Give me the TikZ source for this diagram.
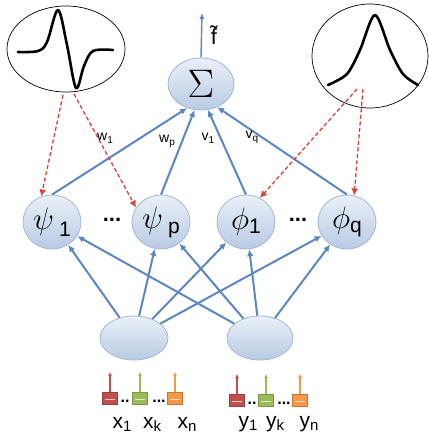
\documentclass[tikz,border=0pt]{standalone}
\usepackage{fontspec}
\setmainfont{Liberation Sans}
\usetikzlibrary{arrows.meta,shapes.geometric,calc}
\definecolor{lineblue}{HTML}{5A87C2}
\definecolor{nodetop}{HTML}{EAF0F8}
\definecolor{nodebot}{HTML}{B8CAE3}
\definecolor{nodeedge}{HTML}{A3B8D4}
\definecolor{dashred}{HTML}{D9413A}
\definecolor{boxred}{HTML}{C0504D}
\definecolor{boxgreen}{HTML}{9BBB59}
\definecolor{boxorange}{HTML}{F79646}
\tikzset{
  neuron/.style={ellipse, draw=nodeedge, line width=0.8pt, top color=nodetop, bottom color=nodebot, inner sep=0pt},
  bubble/.style={ellipse, draw=black, line width=0.7pt, inner sep=0pt},
  conn/.style={draw=lineblue, line width=2pt, -{Latex[length=7pt,width=6.5pt]}},
  redconn/.style={draw=dashred, line width=1.3pt, dash pattern=on 4pt off 2.5pt, -{Latex[length=7pt,width=7pt]}},
  curve/.style={line width=2.6pt, black, line cap=round, line join=round},
  inbox/.style={minimum width=15pt, minimum height=12pt, inner sep=0pt, line width=0.5pt},
  inarrow/.style={line width=1.4pt, -{Latex[length=4pt,width=4pt]}},
  wlabel/.style={font=\fontsize{14}{14}\selectfont, inner sep=0pt},
  xlabel/.style={font=\fontsize{21}{21}\selectfont, inner sep=0pt},
}
\newcommand{\subsz}[1]{{\fontsize{15}{15}\selectfont #1}}
\newcommand{\bigmath}[2]{{\fontsize{24.88}{24.88}\selectfont\scalebox{#1}{$#2$}}}
\begin{document}
\begin{tikzpicture}[x=1pt,y=-1pt]
\useasboundingbox (0,0) rectangle (429,440);

% bubbles with activation shapes
\node[bubble, minimum width=118pt, minimum height=86pt] (wav) at (66,49) {};
\node[bubble, minimum width=116pt, minimum height=104pt] (lor) at (370,56) {};
\draw[curve] plot[smooth, tension=0.55] coordinates {(18,52) (38,51) (47,42) (58,10) (67,45) (76,88) (84,66) (93,51) (113,50)};
\draw[curve] plot[smooth, tension=0.5] coordinates {(328,85) (347,74) (360,50) (375,15) (390,50) (403,74) (418,85)};

% sum node
\node[neuron, minimum width=66pt, minimum height=52pt] (sig) at (201,84) {\bigmath{1.6}{\Sigma}};
\coordinate (out) at (202,13);
\draw[conn, -{Latex[length=6pt,width=5pt]}, line width=1.4pt] (sig.north) -- (out);
\node[inner sep=0pt] (ft) at (214,35) {\fontsize{22}{22}\selectfont \~{f}};

% hidden nodes
\node[neuron, minimum width=58pt, minimum height=54pt] (psi1) at (52,222) {\bigmath{1.25}{\psi}\hspace{5pt}\raisebox{-7pt}{\fontsize{21}{21}\selectfont 1}};
\node[neuron, minimum width=58pt, minimum height=54pt] (psip) at (161,222) {\bigmath{1.25}{\psi}\hspace{5pt}\raisebox{-5pt}{\fontsize{21}{21}\selectfont p}};
\node[neuron, minimum width=58pt, minimum height=54pt] (phi1) at (246,222) {\bigmath{1.25}{\phi}\raisebox{-4pt}{\fontsize{21}{21}\selectfont 1}};
\node[neuron, minimum width=58pt, minimum height=54pt] (phiq) at (347,222) {\bigmath{1.25}{\phi}\raisebox{-4pt}{\fontsize{21}{21}\selectfont q}};
\node[inner sep=0pt] (dots1) at (112,220) {\fontsize{22}{22}\selectfont\textbf{...}};
\node[inner sep=0pt] (dots2) at (298,220) {\fontsize{22}{22}\selectfont\textbf{...}};

% input nodes
\node[neuron, minimum width=68pt, minimum height=44pt] (inx) at (134,338) {};
\node[neuron, minimum width=66pt, minimum height=44pt] (iny) at (260,338) {};

% hidden -> sum
\draw[conn] (psi1.north) -- (sig.240);
\draw[conn] (psip.north) -- (sig.256);
\draw[conn] (phi1.north) -- (sig.285);
\draw[conn] (phiq.north) -- (sig.305);
\node[wlabel] (lw1) at (105,138) {w\raisebox{-3pt}{\fontsize{10}{10}\selectfont 1}};
\node[wlabel] (lwp) at (167,141) {w\raisebox{-3pt}{\fontsize{10}{10}\selectfont p}};
\node[wlabel] (lv1) at (208,138) {v\raisebox{-3pt}{\fontsize{10}{10}\selectfont 1}};
\node[wlabel] (lvq) at (252,137) {v\raisebox{-3pt}{\fontsize{10}{10}\selectfont q}};

% inputs -> hidden
\foreach \h in {psi1,psip,phi1,phiq} {
  \draw[conn] (inx) -- (\h);
  \draw[conn] (iny) -- (\h);
}

% red dashed
\coordinate (w1) at (63,95);
\coordinate (w2) at (74,94);
\coordinate (l1) at (357,89);
\coordinate (l2) at (363,89);
\draw[redconn] (w1) -- (psi1.113);
\draw[redconn] (w2) -- (psip.150);
\draw[redconn] (l1) -- (phi1.60);
\draw[redconn] (l2) -- (phiq.75);

% input boxes
\foreach \nm/\cx/\cy/\col in {xa/110/398/boxred, xb/140/398/boxgreen, xc/175/398/boxorange, ya/237/400/boxred, yb/266/400/boxgreen, yc/300/400/boxorange} {
  \node[inbox, fill=\col, draw=\col!80!black] (\nm) at (\cx,\cy) {};
  \draw[white!70!\col, line width=0.6pt] ($(\nm.west)+(3pt,-1.5pt)$) -- ($(\nm.east)+(-3pt,-1.5pt)$);
  \coordinate (\nm t) at (\cx,\cy-26);
  \draw[inarrow, \col] (\nm.north) -- (\nm t);
}
\node[inner sep=0pt] (dx1) at (125,401) {\fontsize{16}{16}\selectfont\textbf{..}};
\node[inner sep=0pt] (dx2) at (159,401) {\fontsize{16}{16}\selectfont\textbf{...}};
\node[inner sep=0pt] (dy1) at (252,403) {\fontsize{16}{16}\selectfont\textbf{..}};
\node[inner sep=0pt] (dy2) at (284,403) {\fontsize{16}{16}\selectfont\textbf{...}};

% labels
\node[xlabel] (lx1) at (122,424) {x\raisebox{-3pt}{\subsz{1}}};
\node[xlabel] (lxk) at (152,424) {x\raisebox{-3pt}{\subsz{k}}};
\node[xlabel] (lxn) at (187,424) {x\raisebox{-3pt}{\subsz{n}}};
\node[xlabel] (ly1) at (248,424) {y\raisebox{-3pt}{\subsz{1}}};
\node[xlabel] (lyk) at (275,424) {y\raisebox{-3pt}{\subsz{k}}};
\node[xlabel] (lyn) at (309,424) {y\raisebox{-3pt}{\subsz{n}}};
\end{tikzpicture}
\end{document}
